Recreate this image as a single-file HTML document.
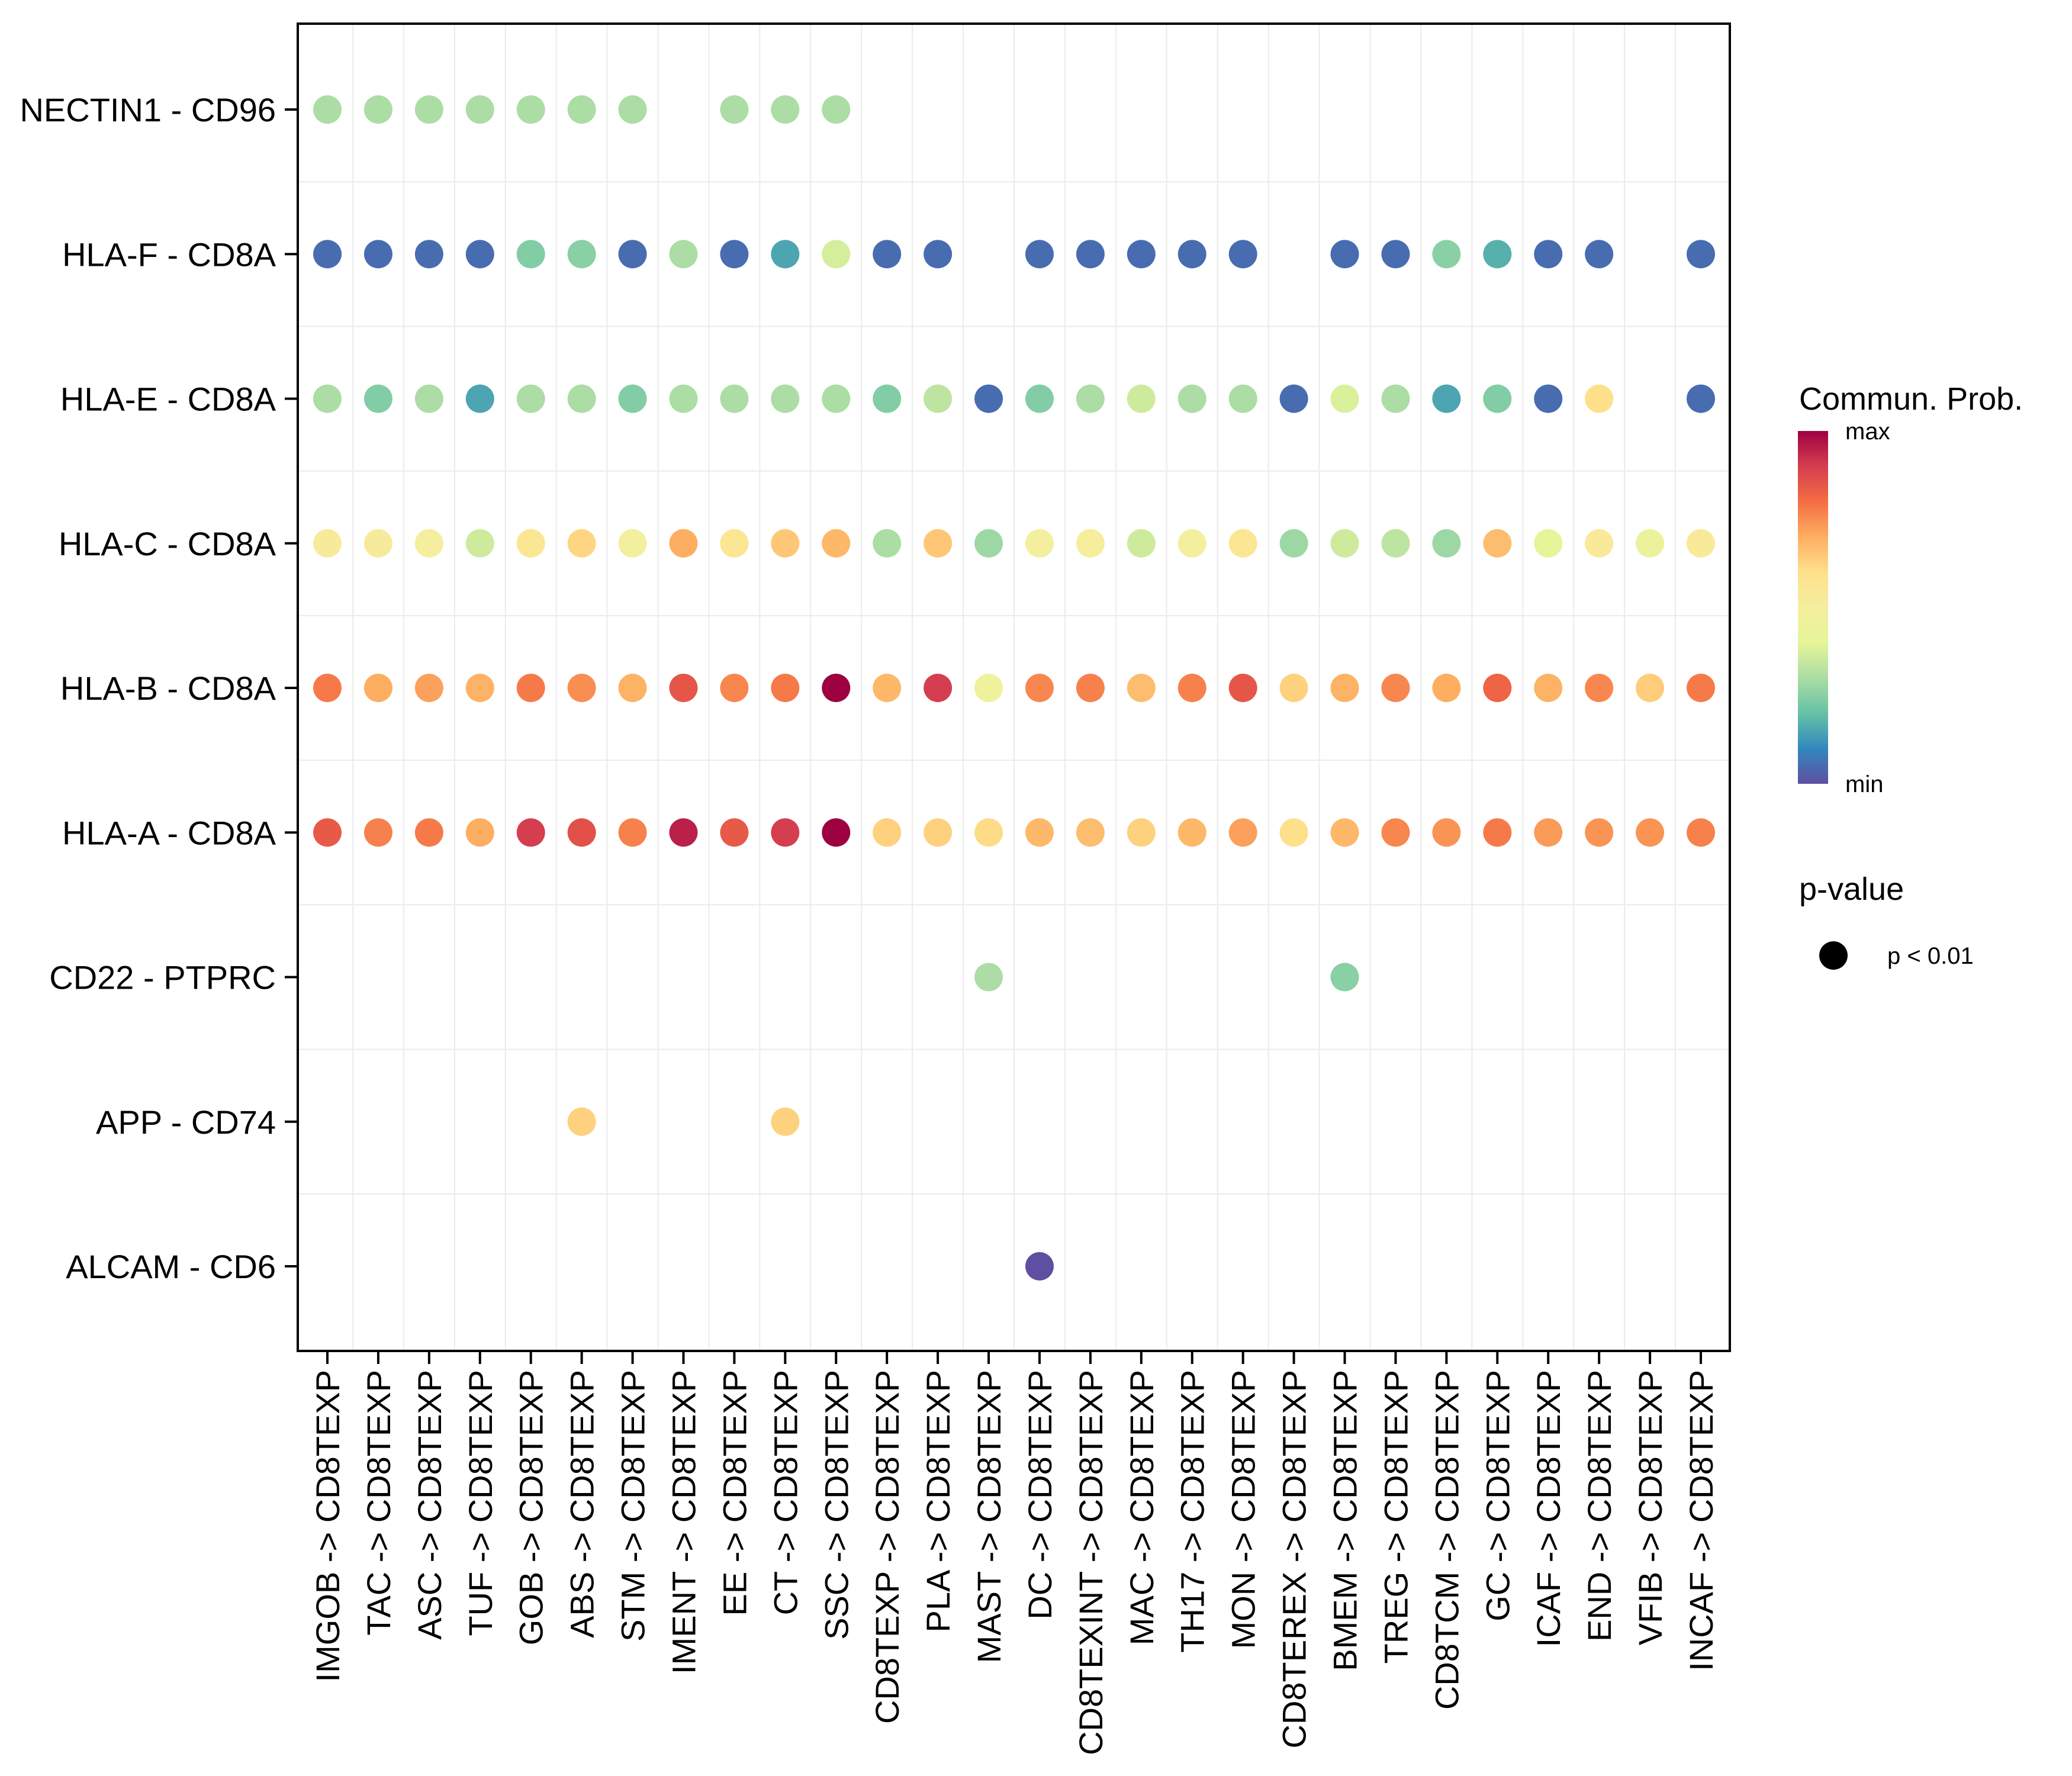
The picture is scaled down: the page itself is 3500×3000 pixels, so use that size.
<!DOCTYPE html>
<html><head><meta charset="utf-8"><style>
html,body{margin:0;padding:0;background:#fff}
svg{display:block;font-family:"Liberation Sans",Arial,sans-serif}
</style></head><body>
<svg id="chart" width="3500" height="3000" viewBox="0 0 3500 3000" xmlns="http://www.w3.org/2000/svg">
<defs>
<linearGradient id="spectral" x1="0" y1="1" x2="0" y2="0">
<stop offset="0" stop-color="#5E4FA2"/><stop offset="0.1" stop-color="#3288BD"/><stop offset="0.2" stop-color="#66C2A5"/><stop offset="0.3" stop-color="#ABDDA4"/><stop offset="0.4" stop-color="#E6F598"/><stop offset="0.5" stop-color="#F5EE9F"/><stop offset="0.6" stop-color="#FEE08B"/><stop offset="0.7" stop-color="#FDAE61"/><stop offset="0.8" stop-color="#F46D43"/><stop offset="0.9" stop-color="#D53E4F"/><stop offset="1" stop-color="#9E0142"/>
</linearGradient>
</defs>
<g id="grid"></g>
<g id="dots"></g>
<rect x="503" y="40" width="2419" height="2242" fill="none" stroke="#000" stroke-width="4"/>
<g id="yaxis"></g>
<g id="xaxis"></g>
<g>
<text x="3039" y="692" font-size="54">Commun. Prob.</text>
<rect x="3037" y="728" width="51" height="596" fill="url(#spectral)"/>
<text x="3117" y="742" font-size="40">max</text>
<text x="3117" y="1338" font-size="40">min</text>
</g>
<g>
<text x="3039" y="1520" font-size="54">p-value</text>
<circle cx="3097" cy="1614" r="24" fill="#000"/>
<text x="3188" y="1628" font-size="40">p &lt; 0.01</text>
</g>
</svg>
<script>
const sources = ["IMGOB","TAC","ASC","TUF","GOB","ABS","STM","IMENT","EE","CT","SSC","CD8TEXP","PLA","MAST","DC","CD8TEXINT","MAC","TH17","MON","CD8TEREX","BMEM","TREG","CD8TCM","GC","ICAF","END","VFIB","INCAF"];
const pairs = ["NECTIN1 - CD96","HLA-F - CD8A","HLA-E - CD8A","HLA-C - CD8A","HLA-B - CD8A","HLA-A - CD8A","CD22 - PTPRC","APP - CD74","ALCAM - CD6"];
const N = null;
const probNECTIN1 = [0.3,0.3,0.3,0.3,0.3,0.3,0.3,N,0.3,0.3,0.3,N,N,N,N,N,N,N,N,N,N,N,N,N,N,N,N,N];
const probHLAF = [0.05,0.05,0.05,0.05,0.24,0.25,0.05,0.3,0.05,0.15,0.37,0.05,0.05,N,0.05,0.05,0.05,0.05,0.05,N,0.05,0.05,0.25,0.17,0.05,0.05,N,0.05];
const probHLAE = [0.3,0.24,0.3,0.15,0.3,0.3,0.24,0.3,0.3,0.3,0.3,0.24,0.33,0.05,0.24,0.3,0.36,0.3,0.3,0.05,0.38,0.3,0.15,0.24,0.05,0.6,N,0.05];
const probHLAC = [0.52,0.52,0.5,0.36,0.56,0.62,0.48,0.7,0.56,0.65,0.68,0.3,0.65,0.28,0.49,0.51,0.36,0.49,0.56,0.28,0.36,0.33,0.28,0.67,0.4,0.53,0.44,0.53];
const probHLAB = [0.78,0.7,0.72,0.69,0.78,0.75,0.69,0.85,0.76,0.78,1.0,0.68,0.9,0.46,0.76,0.77,0.67,0.77,0.85,0.63,0.69,0.76,0.7,0.82,0.69,0.76,0.64,0.78];
const probHLAA = [0.84,0.77,0.78,0.7,0.9,0.86,0.77,0.95,0.84,0.9,1.0,0.63,0.63,0.61,0.68,0.67,0.63,0.68,0.72,0.6,0.68,0.76,0.74,0.78,0.73,0.74,0.74,0.77];
const probCD22 = [N,N,N,N,N,N,N,N,N,N,N,N,N,0.3,N,N,N,N,N,N,0.25,N,N,N,N,N,N,N];
const probAPP = [N,N,N,N,N,0.63,N,N,N,0.63,N,N,N,N,N,N,N,N,N,N,N,N,N,N,N,N,N,N];
const probALCAM = [N,N,N,N,N,N,N,N,N,N,N,N,N,N,0.0,N,N,N,N,N,N,N,N,N,N,N,N,N];
const rows = [probNECTIN1,probHLAF,probHLAE,probHLAC,probHLAB,probHLAA,probCD22,probAPP,probALCAM];

const PL=503,PR=2922,PT=40,PB=2282;
const xScale = i => 553 + i*(2873-553)/(sources.length-1);
const yScale = j => 185 + j*(2139-185)/(pairs.length-1);
const pal = ["#5E4FA2","#3288BD","#66C2A5","#ABDDA4","#E6F598","#F5EE9F","#FEE08B","#FDAE61","#F46D43","#D53E4F","#9E0142"];
function hex(h){return [1,3,5].map(k=>parseInt(h.substr(k,2),16));}
function color(v){const t=Math.max(0,Math.min(1,v))*(pal.length-1);const i=Math.min(Math.floor(t),pal.length-2);const f=t-i;const a=hex(pal[i]),b=hex(pal[i+1]);return "rgb("+a.map((c,k)=>Math.round(c+(b[k]-c)*f)).join(",")+")";}
const NS="http://www.w3.org/2000/svg";
function mk(tag,attrs,parent){const e=document.createElementNS(NS,tag);for(const k in attrs)e.setAttribute(k,attrs[k]);parent.appendChild(e);return e;}
const grid=document.getElementById('grid'),dots=document.getElementById('dots'),ya=document.getElementById('yaxis'),xa=document.getElementById('xaxis');
mk('rect',{x:PL,y:PT,width:PR-PL,height:PB-PT,fill:'#fff'},grid);
for(let i=0;i<sources.length-1;i++){const x=(xScale(i)+xScale(i+1))/2;const l=mk('line',{x1:x,x2:x,y1:PT,y2:PB,stroke:'#ebebeb','stroke-width':2},grid);}
for(let j=0;j<pairs.length-1;j++){const y=(yScale(j)+yScale(j+1))/2;const l=mk('line',{x1:PL,x2:PR,y1:y,y2:y,stroke:'#ebebeb','stroke-width':2},grid);}
rows.forEach((r,j)=>r.forEach((v,i)=>{if(v===null)return;const c=mk('circle',{cx:xScale(i),cy:yScale(j),r:24,fill:color(v)},dots);}));
pairs.forEach((p,j)=>{const y=yScale(j);const t=mk('line',{x1:PL-22,x2:PL,y1:y,y2:y,stroke:'#000','stroke-width':4},ya);
const tx=mk('text',{x:466,y:y+20,'font-size':56,'text-anchor':'end'},ya);tx.textContent=p;});
sources.forEach((s,i)=>{const x=xScale(i);const t=mk('line',{x1:x,x2:x,y1:PB,y2:PB+22,stroke:'#000','stroke-width':4},xa);
const tx=mk('text',{x:0,y:0,'font-size':56,'text-anchor':'end',transform:'translate('+(x+20)+','+(PB+32)+') rotate(-90)'},xa);tx.textContent=s+' -> CD8TEXP';});
</script>
</body></html>
